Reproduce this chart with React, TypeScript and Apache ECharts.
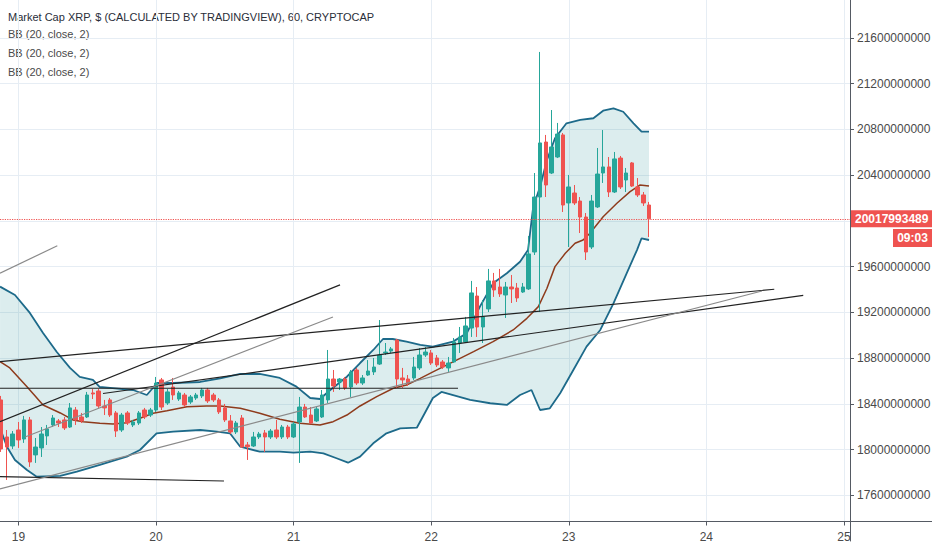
import React, { useEffect, useRef } from "react";
import * as echarts from "echarts";

// ---- data (prices in millions of USD, time in hours since the 19th 00:00) ----
const candleHours = [
  -3, -2, -1, 0, 1, 2, 3, 4, 5, 6, 7, 8, 9, 10, 11, 12, 13, 14, 15, 16, 17, 18, 19, 20, 21, 22, 23,
  24, 25, 26, 27, 28, 29, 30, 31, 32, 33, 34, 35, 36, 37, 38, 39, 40, 41, 42, 43, 44, 45, 46, 47,
  48, 49, 50, 51, 52, 53, 54, 55, 56, 57, 58, 59, 60, 61, 62, 63, 64, 65, 66, 67, 68, 69, 70, 71,
  72, 73, 74, 75, 76, 77, 78, 79, 80, 81, 82, 83, 84, 85, 86, 87, 88, 89, 90, 91, 92, 93, 94, 95,
  96, 97, 98, 99, 100, 101, 102, 103, 104, 105, 106, 107, 108, 109, 110,
];
const opens = [
  18434, 18110, 18031, 18171, 18092, 18259, 17953, 18014, 18119, 18215, 18250, 18259, 18197, 18346, 18285, 18285, 18495, 18512, 18381, 18434, 18320, 18171, 18320, 18215, 18232, 18346, 18302,
  18346, 18609, 18407, 18547, 18442, 18477, 18416, 18451, 18469, 18521, 18477, 18434, 18364, 18250, 18154, 18276, 18040, 18031, 18110, 18145, 18110, 18171, 18110, 18197,
  18110, 18241, 18372, 18302, 18250, 18285, 18434, 18617, 18591, 18617, 18547, 18696, 18582, 18652, 18679, 18748, 18845, 18862, 18958, 18626, 18617, 18626, 18714, 18827,
  18845, 18801, 18766, 18714, 18766, 18932, 18941, 19063, 19343, 19072, 19230, 19475, 19422, 19352, 19422, 19413, 19378, 19405, 19728, 20209, 20690, 20419, 20559, 20752,
  20157, 20244, 20174, 20034, 19772, 20122, 20419, 20472, 20253, 20550, 20358, 20507, 20297, 20227, 20139,
];
const closes = [
  18005, 18022, 18136, 18084, 18259, 17891, 18022, 18136, 18180, 18276, 18232, 18189, 18364, 18259, 18250, 18477, 18486, 18381, 18364, 18302, 18162, 18302, 18232, 18241, 18320, 18285, 18346,
  18582, 18372, 18504, 18477, 18495, 18390, 18460, 18477, 18521, 18425, 18434, 18329, 18259, 18154, 18232, 18022, 18025, 18110, 18136, 18110, 18162, 18110, 18197, 18110,
  18224, 18372, 18285, 18232, 18355, 18477, 18617, 18556, 18617, 18539, 18679, 18582, 18626, 18687, 18722, 18827, 18853, 18880, 18617, 18609, 18582, 18722, 18827, 18853,
  18757, 18740, 18722, 18757, 18941, 18985, 19081, 19370, 19072, 19160, 19475, 19396, 19361, 19422, 19405, 19326, 19422, 19711, 20209, 20682, 20314, 20647, 20760, 20139,
  20297, 20157, 20034, 19728, 20174, 20410, 20472, 20253, 20542, 20297, 20419, 20305, 20227, 20157, 20017.993489,
];
const lows = [
  17979, 17734, 18005, 18014, 18058, 17848, 17883, 17935, 18040, 18197, 18197, 18171, 18189, 18215, 18232, 18276, 18442, 18364, 18302, 18285, 18110, 18154, 18215, 18197, 18215, 18267, 18285,
  18329, 18346, 18390, 18434, 18425, 18372, 18399, 18434, 18451, 18407, 18416, 18311, 18241, 18136, 18136, 18014, 17909, 18022, 18092, 17979, 18092, 18092, 18092, 18092,
  18101, 17883, 18276, 18224, 18241, 18276, 18407, 18504, 18521, 18521, 18460, 18565, 18565, 18644, 18652, 18740, 18827, 18845, 18539, 18539, 18556, 18609, 18696, 18810,
  18740, 18722, 18705, 18679, 18757, 18845, 18932, 18985, 18985, 18932, 19203, 19335, 19335, 19151, 19282, 19291, 19370, 19396, 19702, 19203, 20209, 20410, 20550, 20078,
  19772, 20139, 19894, 19658, 19754, 20113, 20332, 20209, 20244, 20279, 20253, 20297, 20209, 20131, 19859,
];
const highs = [
  18469, 18171, 18162, 18241, 18294, 18285, 18101, 18197, 18215, 18302, 18267, 18285, 18407, 18372, 18320, 18504, 18530, 18530, 18434, 18451, 18337, 18320, 18337, 18259, 18337, 18364, 18364,
  18635, 18626, 18530, 18626, 18512, 18495, 18477, 18495, 18539, 18539, 18495, 18451, 18399, 18302, 18250, 18302, 18066, 18154, 18154, 18171, 18180, 18259, 18215, 18215,
  18241, 18460, 18399, 18372, 18372, 18521, 18871, 18696, 18626, 18635, 18696, 18714, 18652, 18783, 18801, 19133, 18932, 18897, 18967, 18714, 18652, 18810, 18888, 18897,
  18871, 18827, 18783, 18810, 18976, 19072, 19160, 19475, 19422, 19308, 19580, 19545, 19580, 19466, 19527, 19457, 19457, 19868, 20419, 21478, 20752, 20970, 20857, 20769,
  20402, 20314, 20209, 20069, 20227, 20638, 20795, 20559, 20603, 20568, 20463, 20515, 20375, 20253, 20166,
];
const lastClose = 20017.993489;
const countdownText = "09:03";
// the axis tick hidden behind the last-price label in the reference
const coveredTick = 20000;

const upperBandHours = [
  -3.2, -0.6, 2.0, 4.3, 6.7, 9.0, 10.7, 13.0, 14.2, 16.0, 20.0, 22.4, 24.2, 27.0, 31.7, 35.2, 38.7,
  42.1, 45.6, 48.5, 50.9, 52.6, 54.4, 57.3, 59.6, 61.9, 63.6, 65.3, 67.7, 70.1, 72.3, 75.8, 78.2,
  80.5, 82.8, 85.2, 87.5, 88.9, 89.8, 91.0, 92.2, 93.6, 95.6, 98.0, 100.3, 102.0, 103.8, 105.5,
  107.3, 108.7, 110.0,
];
const upperBandValues = [
  19425, 19352, 19195, 19020, 18853, 18714, 18635, 18609, 18547, 18539, 18521, 18477, 18582, 18582, 18591, 18623, 18661,
  18661, 18626, 18550, 18451, 18442, 18521, 18637, 18757, 18871, 18967, 18967, 18944, 18915, 18900, 18944, 19017,
  19250, 19454, 19542, 19643, 19746, 20124, 20299, 20533, 20723, 20854, 20883, 20898, 20964, 20985, 20955,
  20854, 20781, 20781,
];
const middleBandHours = [
  -3.2, -1.5, 1.5, 4.3, 7.3, 9.5, 11.3, 14.2, 16.5, 18.9, 21.2, 23.5, 25.9, 29.4, 32.8, 35.2, 38.7,
  42.1, 45.6, 49.1, 52.6, 54.9, 57.3, 59.6, 62.5, 65.4, 67.7, 70.1, 72.4, 75.9, 79.4, 82.8, 86.3,
  88.7, 90.7, 92.2, 93.6, 95.4, 97.1, 98.5, 99.7, 102.0, 104.4, 106.7, 108.4, 110.0,
];
const middleBandValues = [
  18769, 18714, 18550, 18390, 18320, 18259, 18244, 18230, 18224, 18235, 18274, 18317, 18340, 18375, 18381, 18381, 18361,
  18317, 18265, 18230, 18215, 18244, 18302, 18381, 18463, 18536, 18565, 18623, 18681, 18769, 18856, 18944, 19046,
  19148, 19250, 19411, 19600, 19717, 19804, 19833, 19892, 20037, 20154, 20256, 20314, 20305,
];
const lowerBandHours = [
  -3.2, -2.0, -0.6, 1.5, 3.2, 7.3, 10.2, 14.2, 18.9, 21.2, 24.1, 27.0, 31.7, 34.6, 36.9, 38.7, 42.1,
  45.6, 48.0, 50.9, 53.2, 55.5, 57.5, 59.6, 61.9, 64.2, 66.6, 69.5, 70.9, 72.3, 73.8, 78.8, 82.3,
  85.2, 87.5, 89.5, 91.0, 92.7, 94.5, 96.8, 99.1, 101.5, 103.8, 106.1, 107.9, 108.7, 110.0,
];
const lowerBandValues = [
  18189, 18025, 17909, 17821, 17763, 17769, 17806, 17865, 17938, 17996, 18142, 18156, 18171, 18156, 18142, 18025, 17981,
  17981, 17973, 17981, 17967, 17924, 17885, 17938, 18055, 18142, 18186, 18191, 18320, 18451, 18504, 18434, 18405,
  18390, 18477, 18521, 18346, 18361, 18492, 18696, 18900, 19046, 19279, 19542, 19745, 19848, 19833,
];

// trend lines drawn on the chart: [[hourA, priceA], [hourB, priceB]]
const blackTrendLines = [
  [[-3.21, 18244], [56.1, 19440]],
  [[-3.21, 18769], [131.85, 19402]],
  [[14.76, 18490], [136.9, 19349]],
  [[-3.21, 18536], [76.68, 18536]],
  [[-3.21, 17763], [35.86, 17725]],
];
const grayTrendLines = [
  [[-3.21, 19542], [6.79, 19783]],
  [[1.15, 18110], [54.87, 19160]],
  [[-3.21, 17655], [129.7, 19387]],
];

const titleText = "Market Cap XRP, $ (CALCULATED BY TRADINGVIEW), 60, CRYPTOCAP";
const indicatorTexts = ["BB (20, close, 2)", "BB (20, close, 2)", "BB (20, close, 2)"];
const dayStartLabel = 19;

const FONT = "'Liberation Sans', Arial, sans-serif";

export default function App() {
  const ref = useRef<HTMLDivElement>(null);

  useEffect(() => {
    const chart = echarts.init(ref.current as HTMLDivElement, null, { renderer: "svg" });

    const candleData = candleHours.map((h, i) => [h, opens[i], closes[i], lows[i], highs[i]]);
    const upperData = upperBandHours.map((h, i) => [h, upperBandValues[i]]);
    const middleData = middleBandHours.map((h, i) => [h, middleBandValues[i]]);
    const lowerData = lowerBandHours.map((h, i) => [h, lowerBandValues[i]]);

    const trendSeries: any[] = [];
    blackTrendLines.forEach((seg) =>
      trendSeries.push({
        type: "line",
        xAxisIndex: 0,
        yAxisIndex: 0,
        data: seg,
        symbol: "none",
        silent: true,
        z: 6,
        lineStyle: { color: "#222222", width: 1.2 },
      })
    );
    grayTrendLines.forEach((seg) =>
      trendSeries.push({
        type: "line",
        xAxisIndex: 0,
        yAxisIndex: 0,
        data: seg,
        symbol: "none",
        silent: true,
        z: 6,
        lineStyle: { color: "#8a8a8a", width: 1.2 },
      })
    );

    const option: any = {
      animation: false,
      backgroundColor: "#ffffff",
      textStyle: { fontFamily: FONT },
      grid: [
        { left: 0, right: 82, top: 0, height: 541, outerBoundsMode: "none", containLabel: false },
        { left: -119.2, right: 0, top: 0, height: 521.5, outerBoundsMode: "none", containLabel: false },
      ],
      xAxis: [
        {
          type: "value",
          gridIndex: 0,
          min: -3.21,
          max: 145.06,
          show: false,
          axisLine: { show: false, onZero: false },
          axisTick: { show: false },
          axisLabel: { show: false },
          splitLine: { show: false },
        },
        {
          type: "value",
          gridIndex: 1,
          min: -24,
          max: 159.36,
          interval: 24,
          axisLine: { show: true, onZero: false, lineStyle: { color: "#555a63", width: 1 } },
          axisTick: { show: true, length: 4, lineStyle: { color: "#555a63" } },
          axisLabel: {
            color: "#4a4a4a",
            fontSize: 12,
            fontFamily: FONT,
            margin: 9,
            showMinLabel: false,
            showMaxLabel: false,
            formatter: (v: number) => String(dayStartLabel + Math.round(v / 24)),
          },
          splitLine: { show: true, showMaxLine: false, lineStyle: { color: "#e6edf4", width: 1 } },
        },
      ],
      yAxis: [
        {
          type: "value",
          gridIndex: 0,
          position: "right",
          min: 17200,
          max: 21932.4,
          interval: 400,
          axisLine: { show: true, onZero: false, lineStyle: { color: "#555a63", width: 1 } },
          axisTick: { show: true, length: 4, lineStyle: { color: "#555a63" } },
          axisLabel: {
            color: "#4a4a4a",
            fontSize: 12,
            fontFamily: FONT,
            margin: 7,
            showMinLabel: false,
            showMaxLabel: false,
            formatter: (v: number) => (Math.abs(v - coveredTick) < 1e-6 ? "" : String(Math.round(v * 1e6))),
          },
          splitLine: {
            show: true,
            showMinLine: false,
            showMaxLine: false,
            lineStyle: { color: "#e6edf4", width: 1 },
          },
        },
        {
          type: "value",
          gridIndex: 1,
          min: 0,
          max: 1,
          show: false,
          axisLine: { show: false, onZero: false },
          axisTick: { show: false },
          axisLabel: { show: false },
          splitLine: { show: false },
        },
      ],
      series: [
        {
          type: "custom",
          xAxisIndex: 0,
          yAxisIndex: 0,
          silent: true,
          z: 1,
          data: [[upperBandHours[0], upperBandValues[0]]],
          renderItem: (params: any, api: any) => {
            if (params.dataIndex !== 0) return null;
            const pts: number[][] = [];
            for (let i = 0; i < upperBandHours.length; i++) pts.push(api.coord([upperBandHours[i], upperBandValues[i]]));
            for (let i = lowerBandHours.length - 1; i >= 0; i--) pts.push(api.coord([lowerBandHours[i], lowerBandValues[i]]));
            return {
              type: "polygon",
              shape: { points: pts },
              style: { fill: "rgba(38,140,150,0.16)", stroke: "none" },
            };
          },
        },
        {
          type: "line",
          xAxisIndex: 0,
          yAxisIndex: 0,
          data: upperData,
          symbol: "none",
          silent: true,
          z: 3,
          lineStyle: { color: "#1d6a8a", width: 1.8 },
        },
        {
          type: "line",
          xAxisIndex: 0,
          yAxisIndex: 0,
          data: lowerData,
          symbol: "none",
          silent: true,
          z: 3,
          lineStyle: { color: "#1d6a8a", width: 1.8 },
        },
        {
          type: "line",
          xAxisIndex: 0,
          yAxisIndex: 0,
          data: middleData,
          symbol: "none",
          silent: true,
          z: 3,
          lineStyle: { color: "#8e3b1c", width: 1.5 },
        },
        {
          type: "candlestick",
          xAxisIndex: 0,
          yAxisIndex: 0,
          data: candleData,
          barWidth: 4,
          z: 4,
          itemStyle: {
            color: "#26a69a",
            color0: "#ef5350",
            borderColor: "#26a69a",
            borderColor0: "#ef5350",
            borderWidth: 1,
          },
          markLine: {
            silent: true,
            symbol: ["none", "none"],
            animation: false,
            data: [{ yAxis: lastClose }],
            lineStyle: { color: "#ef5350", type: "dotted", width: 1.2 },
            label: {
              show: true,
              position: "end",
              distance: 1,
              formatter: () => String(Math.round(lastClose * 1e6)),
              color: "#ffffff",
              backgroundColor: "#ef5350",
              fontSize: 12,
              fontWeight: "bold",
              fontFamily: FONT,
              lineHeight: 12,
              padding: [3, 4, 2, 4],
            },
          },
        },
        ...trendSeries,
      ],
      graphic: [
        {
          type: "text",
          x: 8,
          y: 17,
          silent: true,
          style: { text: titleText, fontSize: 11, fontFamily: FONT, fill: "#2a2e39", verticalAlign: "middle" },
        },
        ...indicatorTexts.map((t, i) => ({
          type: "text",
          x: 8,
          y: 34 + i * 19,
          silent: true,
          style: { text: t, fontSize: 11, fontFamily: FONT, fill: "#4a4a4a", verticalAlign: "middle" },
        })),
        {
          type: "group",
          x: 893,
          y: 229,
          silent: true,
          children: [
            { type: "rect", shape: { x: 0, y: 0, width: 39, height: 18 }, style: { fill: "#ef5350" } },
            {
              type: "text",
              x: 19.5,
              y: 9,
              style: {
                text: countdownText,
                fontSize: 12,
                fontWeight: "bold",
                fontFamily: FONT,
                fill: "#ffffff",
                align: "center",
                verticalAlign: "middle",
              },
            },
          ],
        },
      ],
    };

    chart.setOption(option);
    return () => chart.dispose();
  }, []);

  return (
    <div
      ref={ref}
      style={{ position: "fixed", left: 0, top: 0, width: 932, height: 550, background: "#ffffff" }}
    />
  );
}
